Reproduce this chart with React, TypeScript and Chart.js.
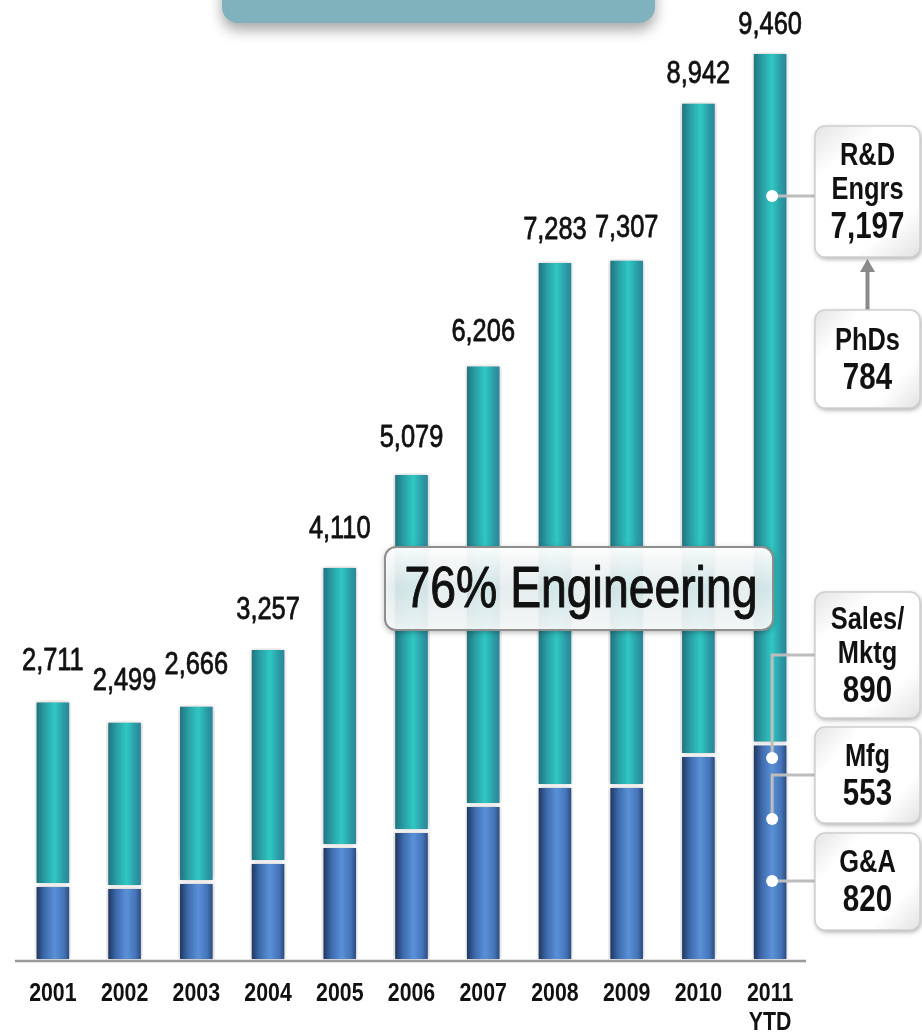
import { useEffect, useRef } from 'react';
import { Chart, registerables } from 'chart.js';

Chart.register(...registerables);

// Headcount by year: total staff and the non-engineering share (G&A, Mfg, Sales/Mktg)
const years: string[][] = [['2001'], ['2002'], ['2003'], ['2004'], ['2005'], ['2006'], ['2007'], ['2008'], ['2009'], ['2010'], ['2011', 'YTD']];
const totalHeadcount = [2711, 2499, 2666, 3257, 4110, 5079, 6206, 7283, 7307, 8942, 9460];
const nonEngineering = [790, 770, 822, 1030, 1197, 1353, 1623, 1821, 1821, 2144, 2263];
const engineering = totalHeadcount.map((t, i) => t - nonEngineering[i]);

// 2011 YTD breakdown callouts
const calloutTitles = [['R&D', 'Engrs'], ['PhDs'], ['Sales/', 'Mktg'], ['Mfg'], ['G&A']];
const calloutCounts = [7197, 784, 890, 553, 820];
// value on the 2011 bar each callout points at (null = no pointer)
const calloutAnchors: (number | null)[] = [7960, null, 2112, 1478, 832];
const engineeringShare = '76% Engineering';

// Narrow sans: Liberation Sans squeezed horizontally
const FAMILY = "'Liberation Sans', Arial, sans-serif";
const NARROW = 0.82;

function narrowText(
  ctx: CanvasRenderingContext2D,
  text: string,
  x: number,
  y: number,
  size: number,
  weight = 'normal',
  thicken = 0,
) {
  ctx.save();
  ctx.translate(x, y);
  ctx.scale(NARROW, 1);
  ctx.font = `${weight} ${size}px ${FAMILY}`;
  ctx.textAlign = 'center';
  ctx.textBaseline = 'middle';
  ctx.fillText(text, 0, 0);
  if (thicken > 0) {
    ctx.strokeStyle = ctx.fillStyle;
    ctx.lineWidth = thicken;
    ctx.lineJoin = 'round';
    ctx.strokeText(text, 0, 0);
  }
  ctx.restore();
}

// callout box layout (pixels)
const BOX_X = 815;
const BOX_W = 105;
const boxTops = [126, 310, 592, 727, 833];
const boxHeights = [131, 98, 126, 96, 97];
const boxElbow = [false, false, true, true, false];

const BAR_PCT = 0.51;

function barGradient(ctx: any, dark: boolean) {
  const chart = ctx.chart;
  const xs = chart.scales?.x;
  if (!chart.chartArea || !xs || ctx.dataIndex === undefined) return dark ? '#4a7cc4' : '#2aa8ad';
  const cx = xs.getPixelForValue(ctx.dataIndex);
  const step = xs.getPixelForValue(1) - xs.getPixelForValue(0);
  const hw = (step * BAR_PCT) / 2;
  const g = chart.ctx.createLinearGradient(cx - hw, 0, cx + hw, 0);
  if (dark) {
    g.addColorStop(0, '#1a2b4f');
    g.addColorStop(0.28, '#3e6cae');
    g.addColorStop(0.55, '#5a90d8');
    g.addColorStop(0.8, '#4574b8');
    g.addColorStop(1, '#243c6a');
  } else {
    g.addColorStop(0, '#1e6a75');
    g.addColorStop(0.28, '#2a9ea4');
    g.addColorStop(0.55, '#2fc8c3');
    g.addColorStop(0.8, '#2b9aa5');
    g.addColorStop(1, '#2a7e94');
  }
  return g;
}

const decorations = {
  id: 'decorations',
  beforeDatasetsDraw(chart: any) {
    const ctx = chart.ctx as CanvasRenderingContext2D;
    // title pill at the top edge
    ctx.save();
    ctx.shadowColor = 'rgba(0,0,0,0.35)';
    ctx.shadowBlur = 14;
    ctx.shadowOffsetY = 7;
    ctx.fillStyle = '#80b2be';
    ctx.beginPath();
    ctx.roundRect(222, -30, 433, 53, 16);
    ctx.fill();
    ctx.restore();
  },
  beforeDatasetDraw(chart: any) {
    const ctx = chart.ctx as CanvasRenderingContext2D;
    ctx.save();
    ctx.shadowColor = 'rgba(0,0,0,0.28)';
    ctx.shadowBlur = 5;
  },
  afterDatasetDraw(chart: any) {
    chart.ctx.restore();
  },
  afterDatasetsDraw(chart: any) {
    const ctx = chart.ctx as CanvasRenderingContext2D;
    const xs = chart.scales.x;
    const ys = chart.scales.y;
    const area = chart.chartArea;

    // baseline
    ctx.save();
    ctx.strokeStyle = '#9a9a9a';
    ctx.lineWidth = 2.5;
    ctx.beginPath();
    ctx.moveTo(area.left - 2, area.bottom);
    ctx.lineTo(area.right, area.bottom);
    ctx.stroke();
    ctx.restore();

    // category labels
    ctx.save();
    ctx.fillStyle = '#111';
    years.forEach((lines, i) => {
      const x = xs.getPixelForValue(i);
      lines.forEach((l, k) => narrowText(ctx, l, x, area.bottom + 33 + k * 29, 26, 'bold'));
    });
    ctx.restore();

    // total labels above bars; shorter bars get a slightly larger gap
    ctx.save();
    ctx.fillStyle = '#111';
    const tallest = ys.getPixelForValue(Math.max(...totalHeadcount));
    totalHeadcount.forEach((t, i) => {
      const x = xs.getPixelForValue(i);
      const top = ys.getPixelForValue(t);
      const y = top - 26 - (top - tallest) * 0.02;
      narrowText(ctx, t.toLocaleString('en-US'), x, y, 31, 'normal', 0.8);
    });
    ctx.restore();

    // engineering share banner
    ctx.save();
    const bx = 385, by = 547, bw = 388, bh = 83;
    ctx.shadowColor = 'rgba(0,0,0,0.35)';
    ctx.shadowBlur = 6;
    ctx.shadowOffsetY = 2;
    const bg = ctx.createLinearGradient(0, by, 0, by + bh);
    bg.addColorStop(0, 'rgba(255,255,255,0.97)');
    bg.addColorStop(0.5, 'rgba(238,247,248,0.86)');
    bg.addColorStop(1, 'rgba(250,252,252,0.93)');
    ctx.fillStyle = bg;
    ctx.beginPath();
    ctx.roundRect(bx, by, bw, bh, 11);
    ctx.fill();
    ctx.shadowColor = 'transparent';
    ctx.strokeStyle = '#8e8e8e';
    ctx.lineWidth = 2;
    ctx.stroke();
    ctx.fillStyle = '#111';
    narrowText(ctx, engineeringShare, bx + bw / 2 + 2, by + bh / 2 + 3, 56.5, 'normal', 1);
    ctx.restore();

    // connectors from the 2011 bar to callouts
    const lastX = xs.getPixelForValue(totalHeadcount.length - 1) + 2;
    ctx.save();
    ctx.strokeStyle = '#bdbdbd';
    ctx.lineWidth = 3;
    calloutAnchors.forEach((v, i) => {
      if (v === null) return;
      const dy = ys.getPixelForValue(v);
      const cy = boxTops[i] + boxHeights[i] / 2;
      ctx.beginPath();
      ctx.moveTo(lastX, dy);
      if (boxElbow[i]) {
        ctx.lineTo(lastX, cy);
        ctx.lineTo(BOX_X, cy);
      } else {
        ctx.lineTo(BOX_X, dy);
      }
      ctx.stroke();
    });
    ctx.fillStyle = '#fff';
    calloutAnchors.forEach((v) => {
      if (v === null) return;
      ctx.beginPath();
      ctx.arc(lastX, ys.getPixelForValue(v), 6, 0, Math.PI * 2);
      ctx.fill();
    });
    ctx.restore();

    // arrow from PhDs up to R&D
    ctx.save();
    const ax = BOX_X + BOX_W / 2;
    const rdBottom = boxTops[0] + boxHeights[0];
    ctx.strokeStyle = '#8a8a8a';
    ctx.fillStyle = '#8a8a8a';
    ctx.lineWidth = 4;
    ctx.beginPath();
    ctx.moveTo(ax, boxTops[1]);
    ctx.lineTo(ax, rdBottom + 12);
    ctx.stroke();
    ctx.beginPath();
    ctx.moveTo(ax, rdBottom + 2);
    ctx.lineTo(ax - 7.5, rdBottom + 15);
    ctx.lineTo(ax + 7.5, rdBottom + 15);
    ctx.closePath();
    ctx.fill();
    ctx.restore();

    // callout boxes
    calloutTitles.forEach((lines, i) => {
      const top = boxTops[i];
      const h = boxHeights[i];
      ctx.save();
      ctx.shadowColor = 'rgba(0,0,0,0.35)';
      ctx.shadowBlur = 5;
      ctx.shadowOffsetX = 1;
      ctx.shadowOffsetY = 2;
      const g = ctx.createLinearGradient(BOX_X, top, BOX_X + BOX_W, top + h);
      g.addColorStop(0, '#e4e4e4');
      g.addColorStop(0.25, '#ffffff');
      g.addColorStop(0.75, '#ffffff');
      g.addColorStop(1, '#e2e2e2');
      ctx.fillStyle = g;
      ctx.beginPath();
      ctx.roundRect(BOX_X, top, BOX_W, h, 10);
      ctx.fill();
      ctx.shadowColor = 'transparent';
      ctx.strokeStyle = '#d0d0d0';
      ctx.lineWidth = 1.5;
      ctx.stroke();

      const span = (lines.length - 1) * 34 + 38;
      const cy = top + h / 2 + 1;
      let y = cy - span / 2;
      ctx.fillStyle = '#111';
      const cx = BOX_X + BOX_W / 2;
      lines.forEach((l) => {
        narrowText(ctx, l, cx, y, 31, 'bold');
        y += 34;
      });
      y += 4;
      narrowText(ctx, calloutCounts[i].toLocaleString('en-US'), cx, y, 36, 'bold');
      ctx.restore();
    });
  },
};

export default function App() {
  const canvasRef = useRef<HTMLCanvasElement | null>(null);

  useEffect(() => {
    const canvas = canvasRef.current;
    if (!canvas) return;
    const chart = new Chart(canvas, {
      type: 'bar',
      data: {
        labels: years.map((l) => l.join(' ')),
        datasets: [
          {
            label: 'Non-engineering',
            data: nonEngineering,
            backgroundColor: (c: any) => barGradient(c, true),
            borderColor: '#ffffff',
            borderWidth: 2,
            borderSkipped: false,
            barPercentage: BAR_PCT,
            categoryPercentage: 1,
          },
          {
            label: 'Engineering',
            data: engineering,
            backgroundColor: (c: any) => barGradient(c, false),
            borderColor: '#ffffff',
            borderWidth: 2,
            borderSkipped: false,
            barPercentage: BAR_PCT,
            categoryPercentage: 1,
          },
        ],
      },
      options: {
        responsive: false,
        animation: false,
        layout: { padding: { left: 17, right: 116, top: 0, bottom: 0 } },
        plugins: { legend: { display: false }, tooltip: { enabled: false } },
        scales: {
          x: {
            stacked: true,
            grid: { display: false, drawTicks: false },
            border: { display: false },
            ticks: { display: false },
            afterFit: (scale: any) => {
              scale.height = 72;
            },
          },
          y: {
            stacked: true,
            display: false,
            min: 0,
            max: 10000,
          },
        },
      },
      plugins: [decorations],
    });
    return () => chart.destroy();
  }, []);

  return (
    <div style={{ position: 'fixed', left: 0, top: 0, width: 922, height: 1033, background: '#fff' }}>
      <canvas ref={canvasRef} width={922} height={1033} />
    </div>
  );
}
